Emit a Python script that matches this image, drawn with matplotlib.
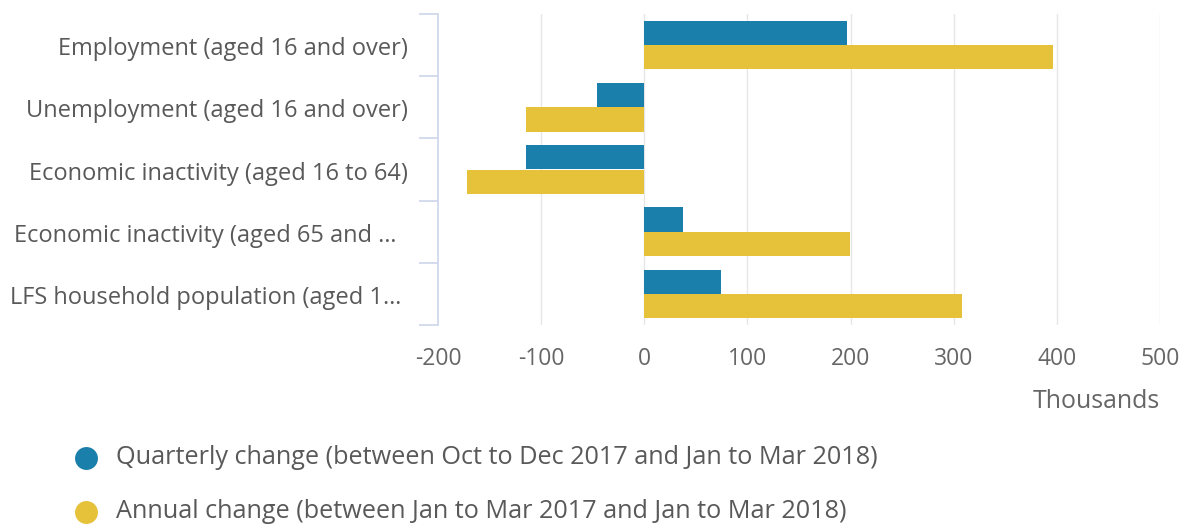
import matplotlib
matplotlib.use("Agg")
import matplotlib.pyplot as plt
from matplotlib.lines import Line2D
import numpy as np

# Labour market changes, thousands
categories = [
    "Employment (aged 16 and over)",
    "Unemployment (aged 16 and over)",
    "Economic inactivity (aged 16 to 64)",
    "Economic inactivity (aged 65 and \u2026",
    "LFS household population (aged 1\u2026",
]
quarterly_change = [197, -46, -115, 38, 74]
annual_change = [396, -115, -172, 199, 308]
series_labels = [
    "Quarterly change (between Oct to Dec 2017 and Jan to Mar 2018)",
    "Annual change (between Jan to Mar 2017 and Jan to Mar 2018)",
]
x_ticks = [-200, -100, 0, 100, 200, 300, 400, 500]
x_unit = "Thousands"

BLUE = "#1b7fab"
YELLOW = "#e6c13a"
TEXT = "#666666"
LABEL = "#595959"
AXIS = "#ccd6eb"
GRID = "#e6e6e6"

plt.rcParams["font.family"] = ["Open Sans", "DejaVu Sans"]

W, H = 1194, 525
fig = plt.figure(figsize=(W / 100, H / 100), dpi=100)
ax = fig.add_axes([438 / W, 1 - 325 / H, (1160 - 438) / W, (325 - 14) / H])

y = np.arange(len(categories))
bh = 0.39
ax.barh(y - bh / 2, quarterly_change, height=bh, color=BLUE, zorder=3)
ax.barh(y + bh / 2, annual_change, height=bh, color=YELLOW, zorder=3)

ax.set_xlim(x_ticks[0], x_ticks[-1])
ax.set_ylim(len(categories) - 0.5, -0.5)

# vertical grid lines (skip the left edge where the axis line sits)
for v in x_ticks[1:]:
    ax.axvline(v, color=GRID, lw=1, zorder=1)

for s in ["top", "right", "bottom"]:
    ax.spines[s].set_visible(False)
ax.spines["left"].set_color(AXIS)
ax.spines["left"].set_linewidth(1.2)

ax.set_xticks(x_ticks)
ax.set_xticklabels([str(v) for v in x_ticks])
ax.tick_params(axis="x", length=0, pad=16, labelsize=16.5, labelcolor=TEXT)

# category labels; truncated ones sit slightly further left
ax.set_yticks(y)
ax.set_yticklabels([])
ax.tick_params(axis="y", which="major", length=0)
label_gap = [30, 30, 30, 42, 37]
for yi, lab, gap in zip(y, categories, label_gap):
    ax.annotate(lab, xy=(0, yi), xycoords=("axes fraction", "data"),
                xytext=(-gap, -4), textcoords="offset pixels",
                ha="right", va="center", fontsize=17, color=LABEL)
ax.set_yticks(np.arange(len(categories) + 1) - 0.5, minor=True)
ax.tick_params(axis="y", which="minor", length=14, width=1.2, color=AXIS)

fig.text(1160 / W, 1 - 402 / H, x_unit, ha="right", va="center",
         fontsize=17.9, color=TEXT)

# legend
for i, (lab, col) in enumerate(zip(series_labels, [BLUE, YELLOW])):
    yy = 1 - (458 + 54 * i) / H
    fig.add_artist(Line2D([86 / W], [yy], marker="o", markersize=16.5,
                          color=col, markeredgewidth=0, transform=fig.transFigure))
    fig.text(116 / W, yy, lab, ha="left", va="center", fontsize=18.2,
             color=LABEL)

fig.savefig("out.png", dpi=100, facecolor="white")
